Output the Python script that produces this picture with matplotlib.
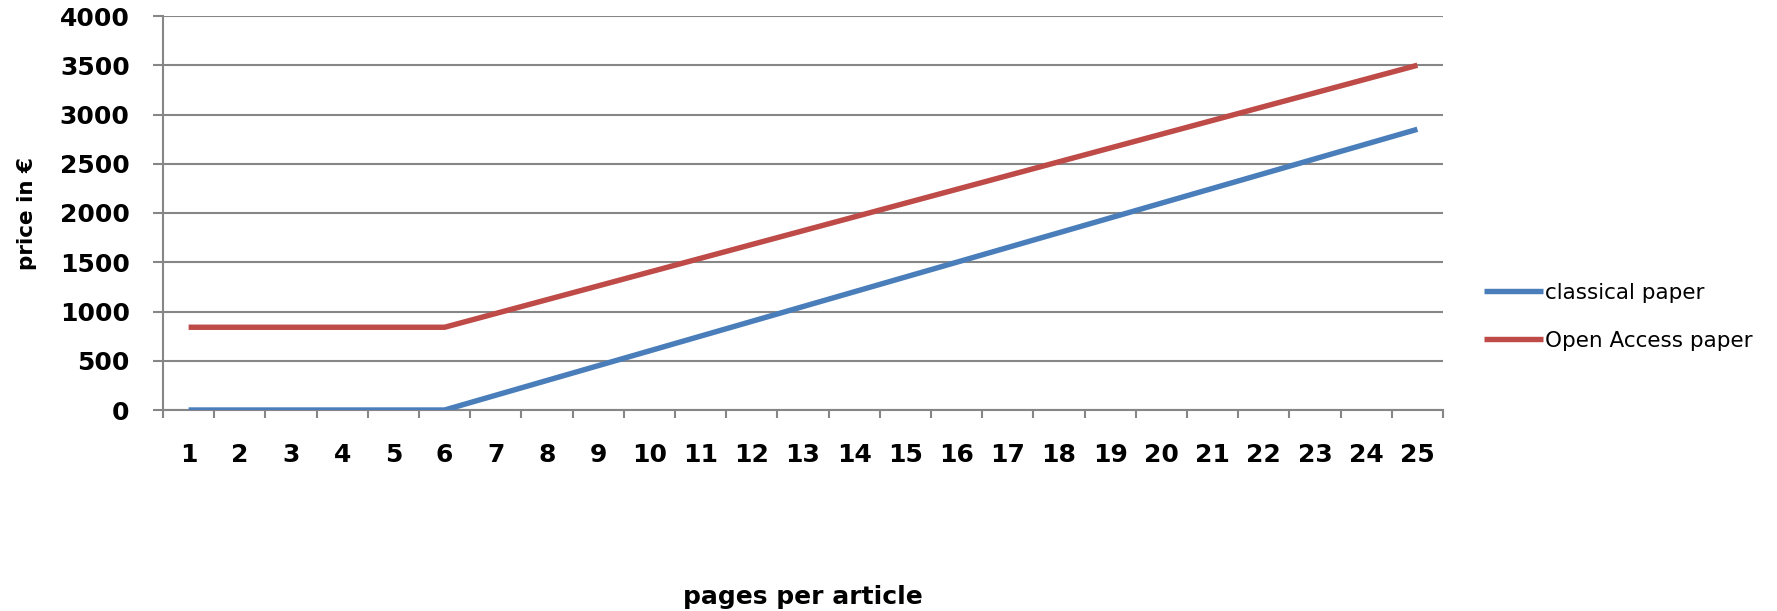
import matplotlib.pyplot as plt
import numpy as np

pages = list(range(1, 26))
classical = [0, 0, 0, 0, 0, 0, 150, 300, 450, 600, 750, 900, 1050, 1200, 1350,
             1500, 1650, 1800, 1950, 2100, 2250, 2400, 2550, 2700, 2850]
open_access = [840, 840, 840, 840, 840, 840, 980, 1120, 1260, 1400, 1540, 1680,
               1820, 1960, 2100, 2240, 2380, 2520, 2660, 2800, 2940, 3080,
               3220, 3360, 3500]
yticks = [0, 500, 1000, 1500, 2000, 2500, 3000, 3500, 4000]

grid_col = "#868686"

fig = plt.figure(figsize=(17.77, 6.11), dpi=100)
ax = fig.add_axes([163 / 1777, 1 - 410 / 611, 1280 / 1777, 394 / 611])

ax.plot(pages, classical, color="#4a7ebb", lw=3.9, solid_capstyle="butt",
        label="classical paper", zorder=3)
ax.plot(pages, open_access, color="#be4b48", lw=3.9, solid_capstyle="butt",
        label="Open Access paper", zorder=3)

ax.set_xlim(0.5, 25.5)
ax.set_ylim(0, 4000)
ax.set_yticks(yticks)
ax.set_xticks(pages)
ax.set_xticks(np.arange(0.5, 26, 1), minor=True)
ax.yaxis.grid(True, color=grid_col, lw=1.5)
ax.set_axisbelow(True)

for s in ["top", "right"]:
    ax.spines[s].set_visible(False)
for s in ["left", "bottom"]:
    ax.spines[s].set_color(grid_col)
    ax.spines[s].set_linewidth(1.5)

ax.tick_params(axis="x", which="major", length=0, pad=24)
ax.tick_params(axis="x", which="minor", length=6, width=1.5, color=grid_col)
ax.tick_params(axis="y", length=7, width=1.5, color=grid_col, pad=17)
for lab in ax.get_xticklabels() + ax.get_yticklabels():
    lab.set_fontweight("bold")
    lab.set_fontsize(18)

fig.text(27 / 1777, 1 - 213 / 611, "price in €", rotation=90, fontsize=15.5,
         fontweight="bold", ha="center", va="center")
fig.text(803 / 1777, 1 - 597 / 611, "pages per article", fontsize=18,
         fontweight="bold", ha="center", va="center")

leg = ax.legend(loc="center left", bbox_to_anchor=(1.017, 0.236), frameon=False,
                fontsize=15.5, handlelength=2.75, handletextpad=0.1,
                labelspacing=1.3)

fig.savefig("out.png", dpi=100)
